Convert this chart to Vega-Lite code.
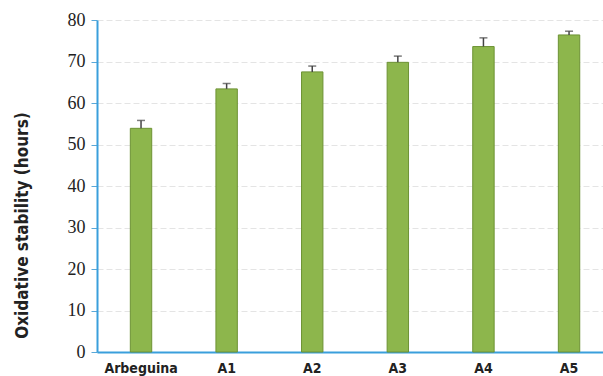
{
  "$schema": "https://vega.github.io/schema/vega-lite/v6.json",
  "width": 506,
  "height": 332,
  "autosize": "none",
  "padding": {"left": 97, "top": 20, "right": 0, "bottom": 24},
  "background": "white",
  "config": {"view": {"stroke": null}},
  "data": {"values": [
    {"cultivar": "Arbeguina", "value": 53.9, "upper": 55.8},
    {"cultivar": "A1", "value": 63.4, "upper": 64.7},
    {"cultivar": "A2", "value": 67.5, "upper": 68.9},
    {"cultivar": "A3", "value": 69.8, "upper": 71.3},
    {"cultivar": "A4", "value": 73.6, "upper": 75.7},
    {"cultivar": "A5", "value": 76.4, "upper": 77.3}
  ]},
  "encoding": {
    "x": {"field": "cultivar", "type": "nominal", "sort": null,
      "scale": {"paddingInner": 0.75, "paddingOuter": 0.3305, "align": 0.589},
      "axis": {"title": null, "labelAngle": 0, "labelFont": "DejaVu Sans Condensed, Liberation Sans Narrow, Roboto", "labelFontWeight": "bold", "labelFontSize": 14, "labelColor": "#222", "labelPadding": 9, "ticks": false, "domainColor": "#3a9fdc", "domainWidth": 2, "grid": false}},
    "y": {"field": "value", "type": "quantitative",
       "scale": {"domain": [0, 80]},
       "axis": {"title": "Oxidative stability (hours)", "values": [0,10,20,30,40,50,60,70,80],
         "labelFont": "Liberation Serif", "labelFontSize": 18, "labelColor": "#222", "labelPadding": 6, "tickSize": 6, "tickColor": "#5aa8d8",
         "domainColor": "#3a9fdc", "domainWidth": 2, "gridColor": "#e4e4e4", "gridDash": [6, 3],
         "titleFont": "DejaVu Sans Condensed, Liberation Sans Narrow, Roboto", "titleFontWeight": "bold", "titleFontSize": 17, "titleColor": "#222",
         "titleX": -66, "titleY": 205}}
  },
  "layer": [
    {"mark": {"type": "bar", "color": "#8db64c", "stroke": "#6d9234", "strokeWidth": 1}},
    {"mark": {"type": "rule", "color": "#444", "strokeWidth": 1.5},
     "encoding": {"y2": {"field": "upper"}}},
    {"mark": {"type": "tick", "color": "#444", "thickness": 1.5, "size": 8},
     "encoding": {"y": {"field": "upper", "type": "quantitative"}}}
  ]
}
